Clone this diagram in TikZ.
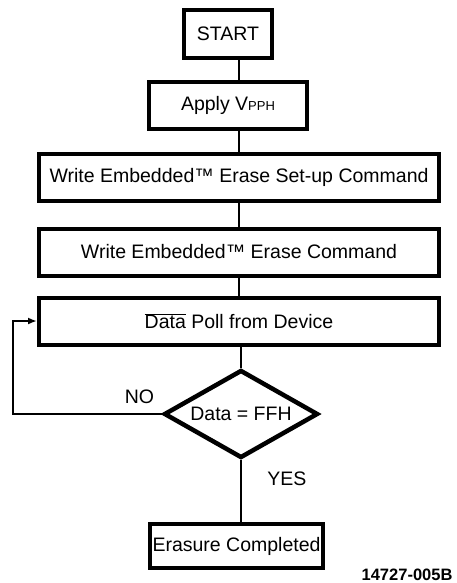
\documentclass[tikz,border=0pt]{standalone}
\usepackage{fontspec}
\setmainfont{Liberation Sans}
\usepackage{tikz}
\usetikzlibrary{calc}
\usetikzlibrary{shapes}
\usetikzlibrary{arrows.meta}

\begin{document}
\begin{tikzpicture}[x=1pt,y=-1pt,
		box/.style={draw,line width=4pt,inner sep=0pt,
			font=\fontsize{19.5}{22}\selectfont},
		wide/.style={box,minimum width=400pt,minimum height=47pt},
		test/.style={draw,diamond,line width=4.5pt,inner sep=0pt,aspect=1.7,
			minimum width=154pt,minimum height=88pt,
			font=\fontsize{19.5}{22}\selectfont},
		link/.style={line width=2pt},
		lbl/.style={font=\fontsize{19.5}{22}\selectfont}]
		\useasboundingbox (0,0) rectangle (456,583);
		\coordinate (spine) at (239,0);
		\coordinate (back) at (13,0);
%		steps
		\node[box,minimum width=88pt,minimum height=48pt] (start) at (228,34) {START};
		\node[box,minimum width=158pt,minimum height=47pt] (vpph) at (228,105.5)
		{Apply V{\fontsize{13}{13}\selectfont PPH}};
		\node[wide] (setup) at (239,177) {Write Embedded™ Erase Set-up Command};
		\node[wide] (erase) at (239,252) {Write Embedded™ Erase Command};
		\node[wide] (poll) at (239,321) {\(\overline{\mbox{Data}}\) Poll from Device};
		\node[test] (dec) at (241,414) {Data = FFH};
		\node[box,minimum width=173pt,minimum height=44pt] (done) at (236.5,546)
		{Erasure Completed};
%		links
		\draw[link] (start.south -| spine) -- (vpph.north -| spine);
		\draw[link] (vpph.south -| spine) -- (setup.north -| spine);
		\draw[link] (setup.south -| spine) -- (erase.north -| spine);
		\draw[link] (erase.south -| spine) -- (poll.north -| spine);
		\draw[link] (poll.south -| dec) -- (dec.north);
		\draw[link] (dec.south) -- 
		node [lbl,right=22pt,pos=0.3] {YES}
		(dec.south |- done.north);
%		loop back
		\draw[link,-{Latex[length=9pt,width=7pt]}] (dec.west) -- 
		node [lbl,above=6pt,pos=0.15] {NO}
		(dec.west -| back) |- (poll.west);
		\node [anchor=east,font=\fontsize{16.5}{18}\selectfont\bfseries] (code) at (456,575) {14727-005B};
	\end{tikzpicture}
\end{document}
